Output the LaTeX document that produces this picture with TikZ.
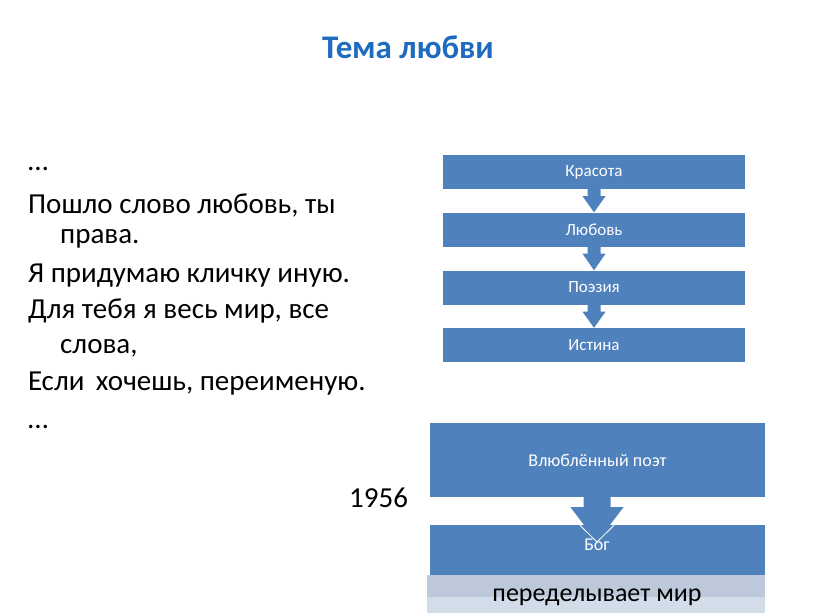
\documentclass[tikz,border=0pt]{standalone}
\usepackage{fontspec}
\usetikzlibrary{calc}
\setmainfont{Carlito}
\begin{document}
\begin{tikzpicture}[x=1pt,y=-1pt,
  bbox/.style={fill=boxblue, draw=none, inner sep=0pt, minimum width=302pt, minimum height=34pt, text=white, font=\fontsize{17}{19}\selectfont},
  bigbox/.style={fill=boxblue, draw=none, inner sep=0pt, minimum width=335pt, text=white, font=\fontsize{18}{20}\selectfont},
  poem/.style={anchor=base west, inner sep=0pt, font=\fontsize{29}{33}\selectfont},
  arr/.style={fill=boxblue, draw=none}]
\definecolor{boxblue}{HTML}{4F81BD}
\definecolor{titleblue}{HTML}{1F6BBE}
\definecolor{bandtop}{HTML}{BDC9DB}
\definecolor{bandbot}{HTML}{D3DCE9}
\useasboundingbox (0,0) rectangle (816,613);
\fill[white] (0,0) rectangle (816,613);
% title
\node[anchor=base, inner sep=0pt, text=titleblue, font=\fontsize{33}{37}\selectfont\bfseries] (title) at (408,58) {Тема любви};
% poem
\node[poem] (l0) at (28,170) {…};
\node[poem] (l1) at (28,213) {Пошло слово любовь, ты};
\node[poem] (l2) at (60,243) {права.};
\node[poem] (l3) at (28,282) {Я придумаю кличку иную.};
\node[poem] (l4) at (28,318) {Для тебя я весь мир, все};
\node[poem] (l5) at (60,353) {слова,};
\node[poem] (l6) at (28,390) {Если\, хочешь, переименую.};
\node[poem] (l7) at (28,428) {…};
\node[poem] (year) at (349,507) {1956};
% first chain
\node[bbox] (k) at (594,172) {Красота};
\node[bbox] (l) at (594,229.5) {Любовь};
\node[bbox] (p) at (594,287.5) {Поэзия};
\node[bbox] (i) at (594,345) {Истина};
\foreach \a/\b in {k/l,l/p,p/i}{
  \fill[arr] ($(\a.south)+(-6.5,0)$) -- ($(\a.south)+(-6.5,7)$) -- ($(\a.south)+(-11.5,7)$) -- (\b.north) -- ($(\a.south)+(11.5,7)$) -- ($(\a.south)+(6.5,7)$) -- ($(\a.south)+(6.5,0)$) -- cycle;
}
% second chain
\fill[bandtop] (427,575) rectangle (765,597);
\fill[bandbot] (427,597) rectangle (765,613);
\node[anchor=base, inner sep=0pt, font=\fontsize{26}{30}\selectfont] (mir) at (597,601) {переделывает мир};
\node[bigbox, minimum height=74pt] (poet) at (597.5,460) {Влюблённый поэт};
\node[bigbox, minimum height=50pt] (bog) at (597.5,550) {};
\coordinate (tip) at (597,542);
\fill[arr] ($(poet.south)+(-14,0)$) -- ($(poet.south)+(-14,10)$) -- ($(poet.south)+(-27,10)$) -- (tip) -- ($(poet.south)+(26,10)$) -- ($(poet.south)+(13,10)$) -- ($(poet.south)+(13,0)$) -- cycle;
\draw[white, line width=0.8pt] ($(poet.south)+(-17.6,28)$) -- (tip) -- ($(poet.south)+(16.6,28)$);
\node[anchor=base, inner sep=0pt, text=white, font=\fontsize{18}{20}\selectfont] (bogt) at (597,550) {Бог};
\end{tikzpicture}
\end{document}
